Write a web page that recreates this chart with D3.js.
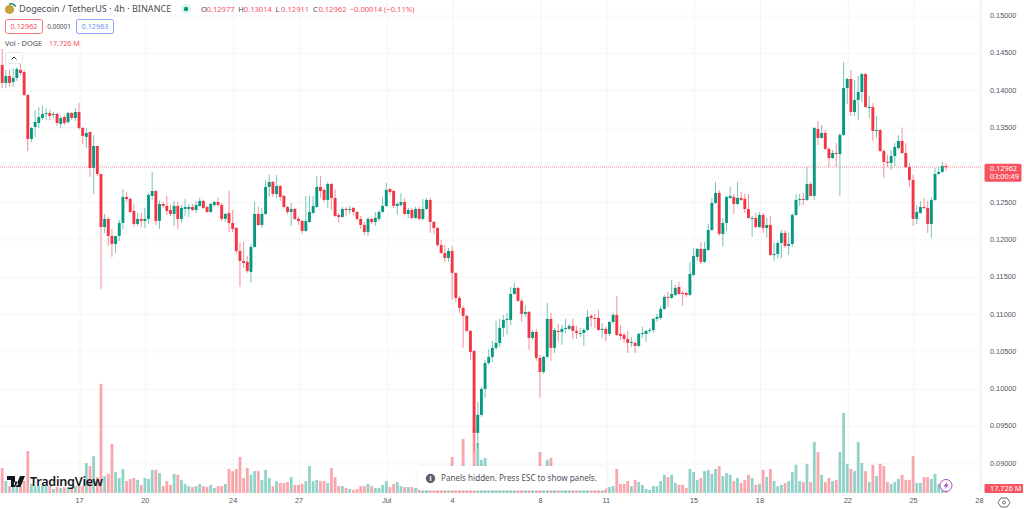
<!DOCTYPE html>
<html><head><meta charset="utf-8">
<script src="https://cdn.jsdelivr.net/npm/d3@7/dist/d3.min.js"></script>
<style>
html,body{margin:0;padding:0;background:#fff;overflow:hidden}
svg{display:block;font-family:"Noto Sans",sans-serif}
</style></head><body><svg id="c" width="1024" height="509"></svg>
<script>
// Dogecoin / TetherUS 4h candles
const opens=[.14331,.14090,.14183,.14103,.14157,.14264,.14237,.13929,.13340,.13500,
.13554,.13621,.13675,.13688,.13662,.13675,.13541,.13634,.13567,.13688,
.13621,.13701,.13487,.13367,.13434,.12951,.13246,.12871,.12161,.12269,
.12041,.11934,.12041,.12215,.12563,.12536,.12376,.12202,.12269,.12242,
.12269,.12577,.12643,.12242,.12469,.12443,.12389,.12335,.12443,.12269,
.12402,.12402,.12429,.12389,.12443,.12510,.12429,.12362,.12456,.12496,
.12456,.12269,.12349,.12215,.12148,.11840,.11706,.11693,.11559,.11894,
.12335,.12188,.12335,.12697,.12764,.12603,.12710,.12577,.12429,.12362,
.12402,.12269,.12242,.12108,.12228,.12349,.12429,.12697,.12657,.12523,
.12737,.12550,.12322,.12295,.12402,.12389,.12416,.12362,.12269,.12188,
.12094,.12269,.12228,.12269,.12362,.12443,.12670,.12643,.12443,.12456,
.12496,.12335,.12389,.12282,.12402,.12269,.12402,.12523,.12228,.12148,
.11920,.11813,.11746,.11840,.11546,.11211,.11077,.10970,.10769,.10501,
.09403,.09644,.09992,.10340,.10421,.10542,.10608,.10809,.10916,.10916,
.11264,.11345,.11171,.10997,.11023,.10675,.10755,.10407,.10220,.10421,
.10930,.10542,.10769,.10755,.10796,.10796,.10836,.10769,.10729,.10742,
.10782,.10970,.10943,.10943,.10782,.10796,.10729,.10889,.10983,.10729,
.10715,.10662,.10608,.10608,.10568,.10729,.10729,.10769,.10782,.10930,
.10943,.11064,.11224,.11211,.11251,.11358,.11278,.11278,.11251,.11519,
.11760,.11867,.11693,.11853,.12121,.12483,.12617,.12068,.12215,.12550,
.12563,.12469,.12550,.12536,.12402,.12269,.12282,.12161,.12322,.12148,
.12188,.11787,.11800,.11947,.12081,.11907,.11934,.12322,.12523,.12536,
.12523,.12737,.12577,.13474,.13353,.13420,.13206,.13085,.13152,.13139,
.13393,.14023,.14143,.13701,.13862,.13969,.14210,.13755,.13768,.13447,
.13460,.13179,.13032,.13018,.13112,.13219,.13313,.13152,.12965,.12791,
.12269,.12349,.12429,.12416,.12202,.12523,.12871,.12898,.12977];
const highs=[.14545,.14264,.14264,.14290,.14304,.14344,.14264,.13942,.13500,.13728,
.13768,.13782,.13755,.13728,.13701,.13688,.13648,.13661,.13701,.13701,
.13755,.13822,.13500,.13487,.13434,.13393,.13246,.12871,.12335,.12295,
.12135,.12041,.12255,.12670,.12630,.12563,.12469,.12349,.12349,.12416,
.12617,.12898,.12657,.12510,.12496,.12577,.12456,.12510,.12496,.12456,
.12536,.12469,.12469,.12510,.12550,.12523,.12443,.12483,.12510,.12550,
.12483,.12349,.12643,.12389,.12161,.11947,.11961,.11773,.11934,.12496,
.12429,.12416,.12791,.12858,.12777,.12858,.12724,.12590,.12443,.12483,
.12416,.12295,.12255,.12577,.12577,.12577,.12844,.12844,.12684,.12764,
.12750,.12670,.12349,.12429,.12429,.12443,.12429,.12376,.12309,.12228,
.12295,.12282,.12362,.12389,.12563,.12750,.12684,.12657,.12496,.12617,
.12550,.12416,.12416,.12429,.12429,.12536,.12550,.12550,.12242,.12161,
.11987,.11920,.11880,.11907,.11546,.11237,.11103,.10983,.10782,.10515,
.09818,.10019,.10381,.10528,.10635,.10903,.10930,.10983,.11010,.11358,
.11412,.11358,.11197,.11117,.11037,.10782,.10796,.10448,.10434,.11144,
.11010,.10809,.10863,.10849,.10930,.10863,.10930,.10836,.10809,.10809,
.11050,.10997,.10997,.11050,.10876,.10822,.10903,.11010,.11237,.10849,
.10742,.10769,.10689,.10635,.10742,.10822,.10782,.10809,.10943,.10997,
.11103,.11251,.11291,.11452,.11385,.11425,.11305,.11291,.11693,.11880,
.11880,.11961,.11961,.12202,.12550,.12764,.12657,.12282,.12577,.12697,
.12603,.12764,.12630,.12603,.12603,.12309,.12349,.12362,.12349,.12282,
.12309,.11961,.11974,.12121,.12121,.12081,.12349,.12603,.12603,.12617,
.12965,.12764,.13500,.13581,.13527,.13460,.13233,.13193,.13286,.13420,
.14371,.14157,.14264,.14130,.14183,.14224,.14224,.13916,.13822,.13648,
.13474,.13206,.13126,.13193,.13286,.13393,.13487,.13286,.13018,.12858,
.12456,.12510,.12550,.12510,.12563,.12951,.12965,.13032,.13014];
const lows=[.14023,.14023,.14036,.14036,.14116,.14197,.13916,.13179,.13300,.13367,
.13487,.13594,.13594,.13594,.13621,.13514,.13487,.13527,.13541,.13594,
.13581,.13460,.13273,.13219,.12831,.12603,.12844,.11331,.12081,.11907,
.11760,.11813,.11974,.12135,.12496,.12349,.12161,.12175,.12161,.12148,
.12202,.12523,.12188,.12135,.12416,.12322,.12309,.12175,.12135,.12215,
.12309,.12295,.12376,.12349,.12429,.12402,.12349,.12349,.12429,.12429,
.12242,.12228,.12094,.12094,.11800,.11358,.11612,.11546,.11412,.11880,
.12175,.12148,.12322,.12563,.12563,.12550,.12510,.12416,.12335,.12175,
.12255,.12188,.12068,.12094,.12215,.12335,.12416,.12550,.12496,.12416,
.12389,.12295,.12215,.12282,.12309,.12335,.12322,.12255,.12135,.12054,
.12041,.12202,.12175,.12242,.12349,.12429,.12590,.12416,.12322,.12429,
.12322,.12282,.12269,.12269,.12255,.12255,.12389,.12081,.12068,.11894,
.11800,.11693,.11693,.11184,.11157,.11010,.10542,.10755,.10381,.09135,
.09202,.09617,.09872,.10314,.10354,.10515,.10555,.10689,.10715,.10849,
.11251,.11157,.10889,.10956,.10515,.10648,.10367,.09872,.10193,.10407,
.10367,.10474,.10622,.10581,.10742,.10782,.10662,.10662,.10689,.10568,
.10769,.10822,.10809,.10769,.10675,.10635,.10702,.10863,.10702,.10648,
.10608,.10474,.10555,.10474,.10555,.10675,.10622,.10742,.10742,.10889,
.10916,.11050,.11090,.11197,.11237,.11251,.11104,.11224,.11237,.11505,
.11706,.11666,.11679,.11840,.12108,.12469,.12041,.11894,.12108,.12536,
.12335,.12456,.12510,.12349,.12269,.12028,.12148,.12148,.12081,.12014,
.11773,.11706,.11746,.11746,.11880,.11787,.11894,.12309,.12443,.12456,
.12510,.12563,.12523,.13260,.13340,.13193,.12965,.13072,.12965,.12577,
.13380,.13808,.13648,.13648,.13594,.13835,.13755,.13621,.13313,.13353,
.13166,.12818,.12965,.12925,.12978,.13193,.13139,.12951,.12697,.12175,
.12202,.12335,.12402,.12081,.12014,.12510,.12858,.12885,.12911];
const closes=[.14090,.14183,.14090,.14157,.14277,.14224,.13929,.13340,.13487,.13567,
.13634,.13675,.13688,.13648,.13675,.13554,.13621,.13554,.13688,.13621,
.13701,.13487,.13380,.13420,.12951,.13246,.12871,.12161,.12269,.12041,
.11934,.12041,.12215,.12563,.12536,.12362,.12202,.12269,.12242,.12269,
.12590,.12643,.12242,.12469,.12443,.12376,.12335,.12443,.12269,.12416,
.12429,.12429,.12389,.12456,.12510,.12416,.12362,.12469,.12496,.12456,
.12269,.12335,.12215,.12135,.11840,.11706,.11679,.11572,.11894,.12335,
.12188,.12335,.12697,.12764,.12603,.12710,.12563,.12429,.12362,.12402,
.12269,.12242,.12108,.12242,.12362,.12443,.12697,.12643,.12523,.12737,
.12550,.12309,.12295,.12402,.12389,.12402,.12362,.12269,.12188,.12094,
.12269,.12228,.12282,.12362,.12443,.12657,.12630,.12443,.12469,.12496,
.12335,.12389,.12282,.12402,.12269,.12402,.12523,.12228,.12148,.11920,
.11813,.11746,.11840,.11546,.11211,.11077,.10970,.10769,.10488,.09403,
.09644,.09992,.10340,.10421,.10542,.10608,.10809,.10916,.10930,.11264,
.11345,.11171,.10997,.11023,.10675,.10755,.10407,.10220,.10421,.10930,
.10542,.10782,.10755,.10796,.10809,.10836,.10769,.10742,.10742,.10782,
.10956,.10943,.10930,.10782,.10796,.10729,.10889,.10983,.10715,.10702,
.10662,.10608,.10622,.10568,.10729,.10742,.10769,.10782,.10930,.10956,
.11064,.11224,.11211,.11264,.11345,.11264,.11264,.11251,.11532,.11773,
.11867,.11693,.11867,.12121,.12483,.12617,.12068,.12215,.12563,.12577,
.12469,.12550,.12523,.12402,.12282,.12282,.12161,.12322,.12148,.12188,
.11787,.11800,.11947,.12081,.11907,.11934,.12322,.12523,.12536,.12523,
.12737,.12577,.13487,.13353,.13420,.13206,.13085,.13152,.13139,.13393,
.14023,.14143,.13701,.13862,.13969,.14210,.13768,.13768,.13447,.13460,
.13179,.13032,.13018,.13112,.13233,.13313,.13152,.12965,.12791,.12269,
.12362,.12429,.12416,.12202,.12523,.12871,.12898,.12978,.12962];
// volume in millions of DOGE (values under the notice box are estimates)
const volumes=[80,38,22,22,22,22,38,134,29,22,22,22,22,22,13,19,16,18,18,16,22,22,22,96,86,118,51,349,54,61,157,67,48,77,38,45,48,42,26,48,45,74,74,64,22,38,26,61,58,42,29,22,19,22,29,22,19,26,16,22,22,29,77,70,77,115,48,80,58,70,70,
42,74,48,22,38,32,32,35,51,26,26,29,38,86,38,42,38,38,32,80,51,22,22,16,13,10,13,22,22,29,22,16,16,26,38,19,29,35,22,19,19,19,16,
22,26,19,51,45,35,26,19,29,115,45,51,173,61,70,205,160,106,112,
48,45,38,32,42,38,45,35,29,26,32,22,26,35,131,35,106,112,
32,26,22,19,22,26,19,16,32,22,19,26,22,19,16,
19,22,77,29,29,38,22,42,35,
26,13,10,22,22,38,58,51,58,32,26,26,16,77,67,42,48,70,74,61,77,86,54,64,58,38,48,32,42,58,48,26,29,74,51,77,38,22,26,32,38,67,90,38,35,93,35,163,131,58,35,48,38,42,131,256,93,77,70,163,96,70,35,90,54,93,86,35,29,35,45,58,42,42,118,32,32,51,51,45,61,29,26,17.726];
const dayTickLabels=["17","20","24","27","Jul","4","8","11","15","18","22","25","28"];
const dayTickBars=[21,39,63,81,105,123,147,165,189,207,231,249,267];
const priceTicks=[0.15,0.145,0.14,0.135,0.13,0.125,0.12,0.115,0.11,0.105,0.1,0.095,0.09];
const legendOHLC=[["O","0.12977"],["H","0.13014"],["L","0.12911"],["C","0.12962"]];

const UP="#089981",DOWN="#f23645",LABEL="#f7525f",TXT="#50535e",GRID="#f3f4f6";
const W=981,H=493;
const svg=d3.select("#c");
const x=d3.scaleLinear().domain([0,258]).range([2.2,946]);
const y=d3.scaleLinear().domain([0.15201,0.08598]).range([0,H]);
const v=d3.scaleLinear().domain([0,350]).range([H,H-109.5]);
const last=closes[closes.length-1];

// grid and axes (the 0.13000 label sits behind the last-price tag, so it is not written)
const ax=svg.append("g").attr("transform",`translate(0,${H})`).call(
  d3.axisBottom(x).tickValues(dayTickBars).tickSize(-H).tickPadding(5)
    .tickFormat((d,i)=>dayTickLabels[i]));
const ay=svg.append("g").attr("transform",`translate(${W},0)`).call(
  d3.axisRight(y).tickValues(priceTicks).tickSize(-W).tickPadding(9)
    .tickFormat(d=>d===0.13?"":d3.format(".5f")(d)));
[ax,ay].forEach(g=>{g.select(".domain").remove();
  g.selectAll("line").attr("stroke",GRID).attr("stroke-width",1);
  g.selectAll("text").attr("fill",TXT).attr("font-size",7.3);});
ax.selectAll("line").attr("transform","translate(0.5,0)");
ay.selectAll("line").attr("transform","translate(0,0.5)");
svg.append("line").attr("x1",W+.5).attr("x2",W+.5).attr("y1",0).attr("y2",H).attr("stroke",GRID);

const isUp=i=>closes[i]>=opens[i];
const idx=d3.range(opens.length);
const plot=svg.append("g");
// volume
plot.append("g").selectAll("rect").data(idx).join("rect")
  .attr("x",i=>x(i)-1.4).attr("width",2.8)
  .attr("y",i=>v(volumes[i])).attr("height",i=>H-v(volumes[i]))
  .attr("fill",i=>isUp(i)?UP:DOWN).attr("opacity",.44);
// wicks
plot.append("g").selectAll("line").data(idx).join("line")
  .attr("x1",i=>x(i)).attr("x2",i=>x(i))
  .attr("y1",i=>y(highs[i])).attr("y2",i=>y(lows[i]))
  .attr("stroke",i=>isUp(i)?UP:DOWN).attr("stroke-width",.9).attr("opacity",.62);
// bodies
plot.append("g").selectAll("rect").data(idx).join("rect")
  .attr("x",i=>x(i)-1.45).attr("width",2.9)
  .attr("y",i=>y(Math.max(opens[i],closes[i])))
  .attr("height",i=>Math.max(1,Math.abs(y(opens[i])-y(closes[i]))))
  .attr("fill",i=>isUp(i)?UP:DOWN);

// last price line and labels
svg.append("line").attr("x1",0).attr("x2",W).attr("y1",y(last)).attr("y2",y(last))
  .attr("stroke",LABEL).attr("stroke-width",.8).attr("stroke-dasharray","1 1").attr("opacity",.75);
svg.append("rect").attr("x",984.5).attr("y",y(last)-3.5).attr("width",37).attr("height",18).attr("rx",1.5).attr("fill",LABEL);
const T=(s,px,py,size,fill,anchor,weight)=>svg.append("text").text(s).attr("x",px).attr("y",py)
  .attr("font-size",size).attr("fill",fill).attr("text-anchor",anchor||"start").attr("font-weight",weight||400);
T(d3.format(".5f")(last),990,y(last)+3.4,7.3,"#fff");
T("03:00:49",990,y(last)+12.2,7.3,"#fff");
svg.append("rect").attr("x",984.5).attr("y",484).attr("width",38.5).attr("height",9).attr("rx",1).attr("fill",LABEL);
T("17.726 M",990,491.4,7.3,"#fff");

// legend
svg.append("circle").attr("cx",9.5).attr("cy",9.5).attr("r",4.6).attr("fill","#c9a23a");
svg.append("path").attr("d","M9 4.2A5.4 5.4 0 0 1 15.6 6.6").attr("fill","none").attr("stroke","#1f8f7d").attr("stroke-width",1.6);
T("Dogecoin / TetherUS · 4h · BINANCE",19,12.4,9.1,"#4a4d57");
svg.append("circle").attr("cx",186).attr("cy",9).attr("r",5).attr("fill","#dff3ef");
svg.append("circle").attr("cx",186).attr("cy",9).attr("r",2.2).attr("fill",UP);
let lx=201;
legendOHLC.forEach(([k,val])=>{
  T(k,lx,12,7.6,"#4a4d57"); T(val,lx+5.5,12,7.6,LABEL); lx+=37.3;});
T("−0.00014 (−0.11%)",lx-.5,12,7.6,LABEL);
const box=(bx,col,s)=>{svg.append("rect").attr("x",bx+.5).attr("y",19.5).attr("width",37).attr("height",14).attr("rx",2).attr("fill","#fff").attr("stroke",col).attr("stroke-width",.8);
  T(s,bx+19,29.2,7.3,col,"middle");};
box(5,LABEL,"0.12962"); T("0.00001",59,29.2,6.4,"#4a4d57","middle"); box(76,"#6f8ff5","0.12963");
T("Vol · DOGE",5,46.4,7.4,"#4a4d57"); T("17.726 M",49,46.4,7.2,LABEL);
svg.append("rect").attr("x",5.5).attr("y",52.5).attr("width",17).attr("height",11).attr("rx",2).attr("fill","#fff").attr("stroke","#e3e4e8").attr("stroke-width",.8);
svg.append("path").attr("d","M11.5 59.5L14 57L16.5 59.5").attr("fill","none").attr("stroke","#333").attr("stroke-width",1);

// TradingView mark
svg.append("path").attr("d","M7 476H15V487H11V480H7ZM16 481.5a2.1 2.1 0 1 0 0.01 0ZM20 476H25L20.5 487H15.5Z").attr("fill","#131722");
T("TradingView",30,485.6,12.6,"#131722","start",600).attr("letter-spacing",-.25);

// notice
const defs=svg.append("defs");
defs.append("filter").attr("id","sh").attr("x","-10%").attr("y","-30%").attr("width","120%").attr("height","160%")
  .append("feDropShadow").attr("dx",0).attr("dy",.5).attr("stdDeviation",1.2).attr("flood-color","#000").attr("flood-opacity",.14);
svg.append("rect").attr("x",417.5).attr("y",466).attr("width",189).attr("height",24.5).attr("rx",4).attr("fill","#fff").attr("filter","url(#sh)");
svg.append("circle").attr("cx",430.5).attr("cy",478.5).attr("r",4.7).attr("fill","#5d606b");
T("i",430.5,481.4,7,"#fff","middle",700);
T("Panels hidden. Press ESC to show panels.",441,481.3,8.1,"#50535e");

// bolt badge and settings glyph
svg.append("circle").attr("cx",946).attr("cy",485.5).attr("r",6).attr("fill","#fff").attr("stroke","#a24dbd").attr("stroke-width",1);
svg.append("path").attr("d","M947.5 481.5L943.5 486.5H946L944.8 489.5L948.8 484.5H946.3Z").attr("fill","#a24dbd");
svg.append("path").attr("d","M1001 498h6l3 4.5l-3 4.5h-6l-3-4.5Z").attr("fill","none").attr("stroke","#4a4d57").attr("stroke-width",.8);
svg.append("circle").attr("cx",1004).attr("cy",502.5).attr("r",1.5).attr("fill","none").attr("stroke","#4a4d57").attr("stroke-width",.8);
</script></body></html>
